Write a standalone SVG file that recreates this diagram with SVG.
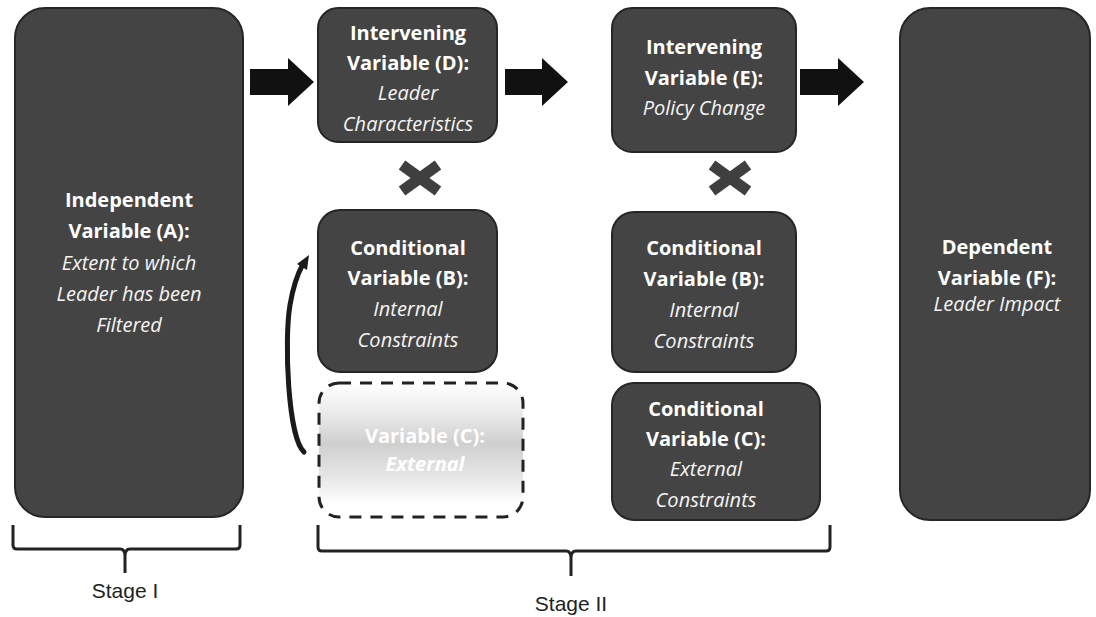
<svg xmlns="http://www.w3.org/2000/svg" width="1096" height="617" viewBox="0 0 1096 617">
<defs>
<style>
.box{fill:#444444;stroke:#262626;stroke-width:2}
.b{font-family:"Open Sans","Noto Sans",sans-serif;font-weight:bold;font-size:20px;fill:#ffffff;text-anchor:middle}
.i{font-family:"Open Sans","Noto Sans",sans-serif;font-style:italic;font-size:20px;fill:#f4f4f4;text-anchor:middle}
.arrow{fill:#111111}
.xm{stroke:#3f3f3f;stroke-width:11;stroke-linecap:butt}
.brace{fill:none;stroke:#222222;stroke-width:3;stroke-linejoin:round}
.stage{font-family:"Liberation Sans",Arial,sans-serif;font-size:21px;fill:#222222;text-anchor:middle}
</style>
<linearGradient id="fade" x1="0" y1="0" x2="0" y2="1">
<stop offset="0" stop-color="#ffffff"/>
<stop offset="0.25" stop-color="#e8e8e8"/>
<stop offset="0.45" stop-color="#cfcfcf"/>
<stop offset="0.7" stop-color="#e6e6e6"/>
<stop offset="0.9" stop-color="#ffffff"/>
<stop offset="1" stop-color="#ffffff"/>
</linearGradient>
</defs>
<rect width="1096" height="617" fill="#ffffff"/>

<g id="nodeA">
<rect class="box" x="15" y="8" width="228" height="509" rx="30"/>
<text class="b" x="129" y="207">Independent</text>
<text class="b" x="129" y="238">Variable (A):</text>
<text class="i" x="129" y="270">Extent to which</text>
<text class="i" x="129" y="301">Leader has been</text>
<text class="i" x="129" y="332">Filtered</text>
</g>

<g id="nodeD">
<rect class="box" x="318" y="8" width="179" height="134" rx="20"/>
<text class="b" x="408" y="40">Intervening</text>
<text class="b" x="408" y="70">Variable (D):</text>
<text class="i" x="408" y="100">Leader</text>
<text class="i" x="408" y="131">Characteristics</text>
</g>

<g id="nodeB1">
<rect class="box" x="318" y="210" width="179" height="162" rx="22"/>
<text class="b" x="408" y="255">Conditional</text>
<text class="b" x="408" y="285">Variable (B):</text>
<text class="i" x="408" y="316">Internal</text>
<text class="i" x="408" y="347">Constraints</text>
</g>

<g id="nodeC1">
<rect x="319" y="383" width="204" height="134" rx="20" fill="url(#fade)" stroke="#222222" stroke-width="3" stroke-dasharray="12 9"/>
<text class="b" x="425" y="443">Variable (C):</text>
<text class="i" x="425" y="471" style="fill:#ffffff;font-weight:bold">External</text>
</g>

<g id="nodeE">
<rect class="box" x="612" y="8" width="184" height="144" rx="20"/>
<text class="b" x="704" y="54">Intervening</text>
<text class="b" x="704" y="85">Variable (E):</text>
<text class="i" x="704" y="115">Policy Change</text>
</g>

<g id="nodeB2">
<rect class="box" x="612" y="212" width="184" height="160" rx="22"/>
<text class="b" x="704" y="255">Conditional</text>
<text class="b" x="704" y="286">Variable (B):</text>
<text class="i" x="704" y="317">Internal</text>
<text class="i" x="704" y="348">Constraints</text>
</g>

<g id="nodeC2">
<rect class="box" x="612" y="383" width="208" height="137" rx="22"/>
<text class="b" x="706" y="416">Conditional</text>
<text class="b" x="706" y="446">Variable (C):</text>
<text class="i" x="706" y="476">External</text>
<text class="i" x="706" y="507">Constraints</text>
</g>

<g id="nodeF">
<rect class="box" x="900" y="8" width="190" height="512" rx="30"/>
<text class="b" x="997" y="254">Dependent</text>
<text class="b" x="997" y="285">Variable (F):</text>
<text class="i" x="997" y="311">Leader Impact</text>
</g>

<g id="connectors">
<polygon class="arrow" points="250,69 288,69 288,58 314,82 288,106 288,95 250,95"/>
<polygon class="arrow" points="505,69 542,69 542,58 568,82 542,106 542,95 505,95"/>
<polygon class="arrow" points="800,69 838,69 838,58 864,82 838,106 838,95 800,95"/>
<line class="xm" x1="402" y1="165" x2="438" y2="191"/>
<line class="xm" x1="402" y1="191" x2="438" y2="165"/>
<line class="xm" x1="712" y1="165" x2="748" y2="191"/>
<line class="xm" x1="712" y1="191" x2="748" y2="165"/>
<path d="M304,452 C288,438 284,340 290,305 C293,287 298,273 303,264" fill="none" stroke="#1a1a1a" stroke-width="5" stroke-linecap="round"/>
<polygon points="297,264 309,255 307,270" fill="#1a1a1a"/>
</g>

<g id="braceI">
<path class="brace" d="M13,525 V545 Q13,549 17,549 H120 Q125,549 125,556 V573 M125,556 Q125,549 130,549 H236 Q240,549 240,545 V525"/>
<text class="stage" x="125" y="598">Stage I</text>
</g>

<g id="braceII">
<path class="brace" d="M318,525 V547 Q318,551 322,551 H566 Q571,551 571,558 V576 M571,558 Q571,551 576,551 H826 Q830,551 830,547 V525"/>
<text class="stage" x="571" y="611">Stage II</text>
</g>
</svg>
